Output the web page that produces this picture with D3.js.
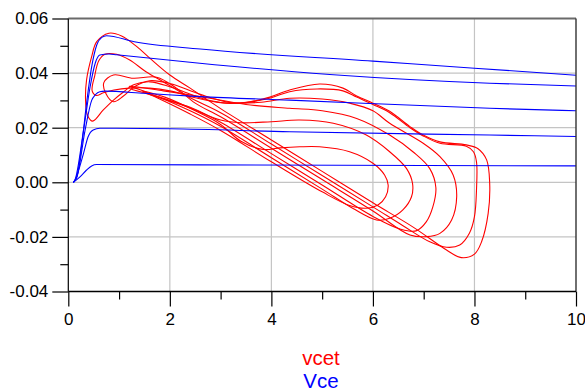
<!DOCTYPE html>
<html lang="en">
<head>
<meta charset="UTF-8">
<title>vcet / Vce</title>
<style>
  body { margin: 0; background: #fff; }
  svg { display: block; font-family: "Liberation Sans", Arial, sans-serif; }
</style>
</head>
<body>
<svg width="585" height="392"></svg>
<script src="https://d3js.org/d3.v7.min.js"></script>
<script>
// axis ticks
var xTicks = [0, 2, 4, 6, 8, 10];
var xTickLabels = ["0", "2", "4", "6", "8", "10"];
var xMinor = [1, 3, 5, 7, 9];
var yTicks = [-0.04, -0.02, 0.00, 0.02, 0.04, 0.06];
var yTickLabels = ["-0.04", "-0.02", "0.00", "0.02", "0.04", "0.06"];
var yMinor = [-0.03, -0.01, 0.01, 0.03, 0.05];

// Vce (blue) curves, [x, y]
var vce1 = [[0.1,0],[0.17,0.002],[0.26,0.013],[0.36,0.029],[0.46,0.0423],[0.56,0.0503],[0.66,0.0531],[0.75,0.0537],[1.3,0.0515],[2.6,0.0488],[6,0.0444],[8,0.0418],[10,0.0392]];
var vce2 = [[0.1,0],[0.13,0.0008],[0.30,0.019],[0.43,0.035],[0.53,0.0436],[0.62,0.0466],[0.8,0.047],[0.95,0.0467],[2.59,0.0436],[5.15,0.0395],[8.3,0.0363],[10,0.0353]];
var vce3 = [[0.1,0],[0.17,0.002],[0.33,0.019],[0.46,0.030],[0.53,0.032],[0.62,0.0332],[0.72,0.0334],[1.5,0.0326],[2.59,0.0314],[4.36,0.0301],[8.3,0.0271],[10,0.0262]];
var vce4 = [[0.1,0],[0.13,0.0008],[0.30,0.0106],[0.39,0.0167],[0.49,0.0192],[0.62,0.0198],[2.0,0.0196],[4.36,0.0185],[8.3,0.0173],[10,0.0168]];
var vce5 = [[0.1,0],[0.23,0.002],[0.36,0.0045],[0.46,0.006],[0.56,0.0065],[2.59,0.0064],[10,0.006]];

// vcet (red) loops, [x, y], each one closed
var vcet1 = [[1.45,0.0335],[1.9,0.0312],[2.5,0.0262],[3.0,0.0212],[3.4,0.0150],[3.84,0.0120],[4.17,0.0126],[4.56,0.0130],[4.95,0.0130],[5.54,0.0112],[6.0,0.0070],[6.23,0.0027],[6.30,-0.0010],[6.25,-0.0053],[6.1,-0.0083],[5.87,-0.0095],[5.54,-0.0085],[5.0,-0.0035],[4.0,0.0075],[3.0,0.0190],[2.4,0.0250],[1.8,0.0305]];
var vcet2 = [[1.25,0.0340],[1.8,0.0312],[2.4,0.0272],[3.0,0.0228],[3.4,0.0218],[4.0,0.0222],[4.56,0.0228],[5.22,0.0216],[5.87,0.0173],[6.33,0.0112],[6.66,0.0051],[6.78,-0.0004],[6.76,-0.0053],[6.59,-0.0101],[6.33,-0.0132],[6.07,-0.0138],[5.6,-0.0095],[5.0,-0.0025],[4.0,0.0090],[3.0,0.0205],[2.4,0.0262],[1.8,0.0310],[1.45,0.0330]];
var vcet3 = [[1.2,0.0352],[1.87,0.0335],[2.79,0.0308],[3.5,0.0285],[4.36,0.0271],[5.0,0.0262],[5.68,0.0234],[6.33,0.0173],[6.8,0.0110],[7.12,0.0050],[7.24,-0.0020],[7.18,-0.0090],[7.05,-0.0145],[6.85,-0.0178],[6.55,-0.0172],[6.0,-0.0125],[5.0,-0.0010],[4.0,0.0105],[3.0,0.0220],[2.4,0.0275],[1.81,0.0310],[1.4,0.0340]];
var vcet4 = [[0.70,0.0365],[0.74,0.0325],[0.89,0.0295],[1.08,0.0315],[1.3,0.0350],[1.6,0.0372],[2.0,0.0362],[2.6,0.0322],[3.2,0.0292],[3.8,0.0293],[4.36,0.0308],[5.0,0.0305],[5.54,0.0290],[6.0,0.0262],[6.33,0.0216],[6.99,0.0143],[7.32,0.0094],[7.58,0.0027],[7.65,-0.0053],[7.55,-0.0138],[7.32,-0.0187],[7.06,-0.0199],[6.73,-0.0193],[6.0,-0.0105],[5.0,0.0010],[4.0,0.0125],[3.0,0.0240],[2.5,0.0290],[2.13,0.0345],[1.74,0.0385],[1.28,0.0381],[0.89,0.0393]];
var vcet5 = [[0.47,0.0335],[0.55,0.0318],[0.69,0.0328],[0.9,0.0338],[1.2,0.0345],[1.6,0.0345],[2.0,0.0335],[2.5,0.0310],[3.0,0.0292],[3.5,0.0292],[4.0,0.0310],[4.36,0.0332],[4.9,0.0342],[5.41,0.0335],[5.68,0.0312],[6.0,0.0285],[6.33,0.0255],[6.73,0.0200],[6.99,0.0170],[7.32,0.0143],[7.84,0.0132],[7.98,0.0112],[8.04,0.0075],[8.04,-0.0028],[8.0,-0.0126],[7.9,-0.0187],[7.71,-0.0230],[7.45,-0.0238],[7.12,-0.0218],[6.6,-0.0160],[6.0,-0.0090],[5.0,0.0025],[4.0,0.0140],[3.0,0.0255],[2.4,0.0310],[1.9,0.0365],[1.53,0.0405],[1.21,0.0448],[0.95,0.0469],[0.72,0.0469],[0.6,0.0445],[0.52,0.0390]];
var vcet6 = [[0.48,0.0224],[0.69,0.0265],[0.89,0.0301],[1.08,0.0330],[1.3,0.0358],[1.61,0.0368],[2.0,0.0350],[2.3,0.0330],[2.59,0.0310],[2.92,0.0295],[3.18,0.0289],[3.58,0.0295],[3.97,0.0312],[4.36,0.0338],[4.95,0.0360],[5.41,0.0345],[5.68,0.0316],[6.0,0.0290],[6.33,0.0260],[6.73,0.0204],[6.99,0.0173],[7.32,0.0148],[7.84,0.0137],[8.07,0.0123],[8.24,0.0082],[8.30,-0.0004],[8.27,-0.0114],[8.14,-0.0218],[8.0,-0.0263],[7.74,-0.0276],[7.45,-0.0248],[6.8,-0.0165],[6.0,-0.0075],[5.0,0.0040],[4.0,0.0155],[3.0,0.0270],[2.4,0.0345],[2.0,0.0393],[1.61,0.0454],[1.35,0.0497],[1.05,0.0536],[0.8,0.0546],[0.56,0.0515],[0.46,0.0460],[0.36,0.0375],[0.34,0.0300],[0.38,0.0245]];

var vceSeries = [vce1, vce2, vce3, vce4, vce5];
var vcetSeries = [vcet1, vcet2, vcet3, vcet4, vcet5, vcet6];
var legendNames = ["vcet", "Vce"];
var legendColors = ["#ff0000", "#0000ff"];

var svg = d3.select("svg");
var plot = {left: 68.3, right: 576, top: 18.5, bottom: 291.5};

var x = d3.scaleLinear().domain([0, 10]).range([plot.left, plot.right]);
var y = d3.scaleLinear().domain([-0.04, 0.06]).range([plot.bottom, plot.top]);

// grid
var grid = svg.append("g").attr("stroke", "#c4c4c4").attr("stroke-width", 1.2);
grid.selectAll(".gx")
  .data(xTicks.filter(function(d){ return d > 0 && d < 10; }))
  .enter().append("line")
  .attr("x1", function(d){ return x(d); }).attr("x2", function(d){ return x(d); })
  .attr("y1", plot.top).attr("y2", plot.bottom);
grid.selectAll(".gy")
  .data(yTicks.filter(function(d){ return d > -0.04 && d < 0.06; }))
  .enter().append("line")
  .attr("y1", function(d){ return y(d); }).attr("y2", function(d){ return y(d); })
  .attr("x1", plot.left).attr("x2", plot.right);

// axes
var yAxis = d3.axisLeft(y).tickValues(yTicks).tickSize(16).tickPadding(4)
  .tickFormat(function(d, i){ return yTickLabels[i]; });
var yMinorAxis = d3.axisLeft(y).tickValues(yMinor).tickSize(8).tickFormat("");
var xAxis = d3.axisBottom(x).tickValues(xTicks).tickSize(15).tickPadding(6.5)
  .tickFormat(function(d, i){ return xTickLabels[i]; });
var xMinorAxis = d3.axisBottom(x).tickValues(xMinor).tickSize(8).tickFormat("");

function styleAxis(g) {
  g.select(".domain").remove();
  g.selectAll("line").attr("stroke", "#000").attr("stroke-width", 1.2);
  g.selectAll("text").attr("fill", "#000").style("font-size", "17px")
    .style("font-family", "'Liberation Sans', Arial, sans-serif");
}
svg.append("g").attr("transform", "translate(" + plot.left + ",0)").call(yAxis).call(styleAxis);
svg.append("g").attr("transform", "translate(" + plot.left + ",0)").call(yMinorAxis).call(styleAxis);
svg.append("g").attr("transform", "translate(0," + plot.bottom + ")").call(xAxis).call(styleAxis);
svg.append("g").attr("transform", "translate(0," + plot.bottom + ")").call(xMinorAxis).call(styleAxis);

// data
var clip = svg.append("clipPath").attr("id", "clip").append("rect")
  .attr("x", plot.left).attr("y", plot.top)
  .attr("width", plot.right - plot.left).attr("height", plot.bottom - plot.top);

var loopLine = d3.line()
  .x(function(d){ return x(d[0]); })
  .y(function(d){ return y(d[1]); })
  .curve(d3.curveCatmullRomClosed.alpha(0.5));
var vceLine = d3.line()
  .x(function(d){ return x(d[0]); })
  .y(function(d){ return y(d[1]); })
  .curve(d3.curveMonotoneX);

var data = svg.append("g").attr("clip-path", "url(#clip)");
data.selectAll(".vcet").data(vcetSeries).enter().append("path")
  .attr("d", loopLine).attr("fill", "none")
  .attr("stroke", legendColors[0]).attr("stroke-width", 1.1);
data.selectAll(".vce").data(vceSeries).enter().append("path")
  .attr("d", vceLine).attr("fill", "none")
  .attr("stroke", legendColors[1]).attr("stroke-width", 1.1);

// frame
svg.append("line").attr("x1", plot.left).attr("x2", plot.right)
  .attr("y1", plot.top).attr("y2", plot.top)
  .attr("stroke", "#6a6a6a").attr("stroke-width", 2);
svg.append("line").attr("x1", plot.right).attr("x2", plot.right)
  .attr("y1", plot.top).attr("y2", plot.bottom)
  .attr("stroke", "#333").attr("stroke-width", 1.4);
svg.append("line").attr("x1", plot.left).attr("x2", plot.left)
  .attr("y1", plot.top).attr("y2", plot.bottom)
  .attr("stroke", "#000").attr("stroke-width", 1.2);
svg.append("line").attr("x1", plot.left).attr("x2", plot.right)
  .attr("y1", plot.bottom).attr("y2", plot.bottom)
  .attr("stroke", "#000").attr("stroke-width", 1.4);

// legend
svg.selectAll(".legend").data(legendNames).enter().append("text")
  .attr("x", 321).attr("y", function(d, i){ return 365 + i * 22.5; })
  .attr("text-anchor", "middle")
  .attr("fill", function(d, i){ return legendColors[i]; })
  .style("font-size", "20.5px")
  .text(function(d){ return d; });
</script>
</body>
</html>
